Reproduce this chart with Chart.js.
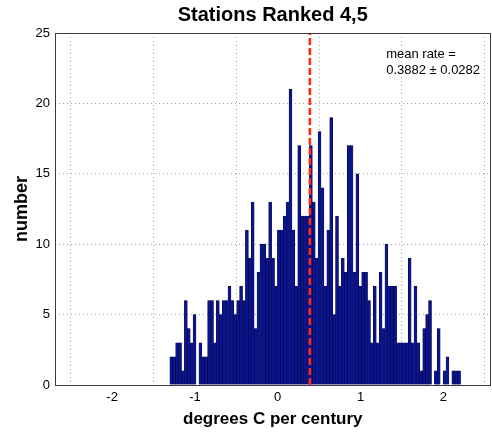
<!DOCTYPE html>
<html>
<head>
<meta charset="utf-8">
<script src="https://cdn.jsdelivr.net/npm/chart.js@4.4.1/dist/chart.umd.min.js"></script>
<style>
  html, body { margin: 0; padding: 0; background: #fff; }
  #wrap { width: 492px; height: 432px; }
</style>
</head>
<body>
<div id="wrap"><canvas id="histChart"></canvas></div>
<script>
// histogram bins: first edge and width, in degrees C per century
const binStart = -1.3027;
const binWidth = 0.03511;
const counts = [
  2, 2, 3, 3, 1, 6, 4, 3, 5, 0,
  3, 2, 2, 6, 6, 3, 6, 5, 6, 6,
  7, 6, 5, 6, 7, 6, 11, 9, 13, 4,
  8, 10, 10, 9, 13, 9, 7, 11, 11, 12,
  13, 21, 11, 7, 17, 12, 12, 12, 17, 13,
  9, 18, 14, 7, 11, 19, 5, 12, 7, 9,
  8, 17, 17, 8, 15, 7, 8, 8, 6, 3,
  7, 3, 8, 4, 10, 7, 7, 7, 3, 3,
  3, 3, 9, 3, 7, 3, 1, 4, 5, 6,
  0, 1, 4, 0, 1, 2, 0, 1, 1, 1
];
const meanRate = 0.3882;
const meanErr = 0.0282;

const xTicks = [-2, -1, 0, 1, 2];
const yTicks = [0, 5, 10, 15, 20, 25];
const xRange = [-2.69, 2.57];
const yRange = [0, 25];

// where the mean-rate note sits, in data units
const noteX = 1.31;
const noteY = 23.45;

const fontFamily = '"Liberation Sans", Arial, Helvetica, sans-serif';

(function () {
  function initChart() {
    const canvas = document.getElementById('histChart');
    if (!canvas) return;

    const barPoints = counts.map((c, i) => ({ x: binStart + (i + 0.5) * binWidth, y: c }));
    const meanPoints = [{ x: meanRate, y: yRange[0] }, { x: meanRate, y: yRange[1] }];

    // axes box + note text, drawn on top of everything
    const framePlugin = {
      id: 'frame',
      afterDraw(chart) {
        const { ctx, chartArea: a, scales } = chart;
        ctx.save();
        ctx.strokeStyle = '#3a3a3a';
        ctx.lineWidth = 1;
        ctx.strokeRect(Math.round(a.left) + 0.5, Math.round(a.top) + 0.5,
          Math.round(a.right - a.left) - 1, Math.round(a.bottom - a.top));

        ctx.fillStyle = '#000';
        ctx.font = '13px ' + fontFamily;
        ctx.textBaseline = 'middle';
        ctx.textAlign = 'left';
        const px = scales.x.getPixelForValue(noteX);
        const py = scales.y.getPixelForValue(noteY);
        ctx.fillText('mean rate =', px, py);
        ctx.fillText(meanRate.toFixed(4) + ' \u00b1 ' + meanErr.toFixed(4), px, py + 16);
        ctx.restore();
      }
    };

    new Chart(canvas.getContext('2d'), {
      type: 'bar',
      data: {
        datasets: [{
          type: 'bar',
          data: barPoints,
          backgroundColor: '#0a148e',
          borderColor: '#000030',
          borderWidth: 0.5,
          barPercentage: 1,
          categoryPercentage: 1,
          order: 2
        }, {
          type: 'line',
          data: meanPoints,
          borderColor: '#ff2a10',
          borderWidth: 2.6,
          borderDash: [7, 3],
          pointRadius: 0,
          fill: false,
          order: 1
        }]
      },
      options: {
        responsive: true,
        maintainAspectRatio: false,
        animation: false,
        layout: { padding: { left: 0, right: 1.5, top: 0, bottom: 0 } },
        plugins: {
          legend: { display: false },
          tooltip: { enabled: false },
          title: {
            display: true,
            text: 'Stations Ranked 4,5',
            fullSize: false,
            color: '#000',
            font: { family: fontFamily, size: 20, weight: 'bold', lineHeight: 1.2 },
            padding: { top: 3, bottom: 6 }
          }
        },
        scales: {
          x: {
            type: 'linear',
            min: xRange[0],
            max: xRange[1],
            offset: false,
            afterBuildTicks: (s) => { s.ticks = xTicks.map(v => ({ value: v })); },
            afterFit: (s) => { s.height = 47; },
            grid: { color: '#a8a8a8', lineWidth: 1, drawTicks: false },
            border: { display: false, dash: [1, 3] },
            ticks: { color: '#000', font: { family: fontFamily, size: 13 }, padding: 5 },
            title: {
              display: true,
              text: 'degrees C per century',
              color: '#000',
              font: { family: fontFamily, size: 17, weight: 'bold', lineHeight: 1.2 },
              padding: { top: 0, bottom: 2.5 }
            }
          },
          y: {
            min: yRange[0],
            max: yRange[1],
            afterBuildTicks: (s) => { s.ticks = yTicks.map(v => ({ value: v })); },
            afterFit: (s) => { s.width = 55; },
            grid: { color: '#a8a8a8', lineWidth: 1, drawTicks: false },
            border: { display: false, dash: [1, 3] },
            ticks: { color: '#000', font: { family: fontFamily, size: 13 }, padding: 5 },
            title: {
              display: true,
              text: 'number',
              color: '#000',
              font: { family: fontFamily, size: 18, weight: 'bold', lineHeight: 1.2 },
              padding: { top: 11, bottom: 0 }
            }
          }
        }
      },
      plugins: [framePlugin]
    });
  }

  if (document.readyState === 'loading') {
    document.addEventListener('DOMContentLoaded', initChart);
  } else {
    initChart();
  }
})();
</script>
</body>
</html>
